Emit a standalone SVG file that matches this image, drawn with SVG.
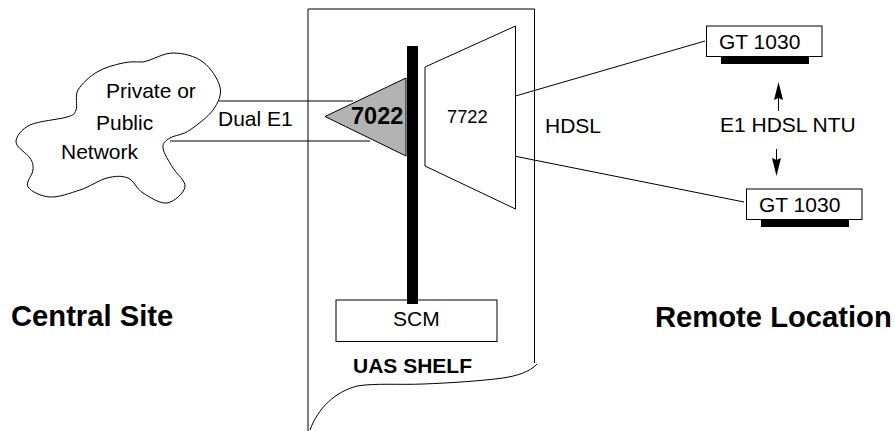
<svg xmlns="http://www.w3.org/2000/svg" width="895" height="431" viewBox="0 0 895 431">
<style>
.l{fill:none;stroke:#000;stroke-width:1}
.b{fill:#fff;stroke:#000;stroke-width:1}
.k{fill:#000}
text{font-family:"Liberation Sans",Arial,sans-serif;fill:#000}
.t{font-size:21px}
.h{font-size:29.200px;font-weight:bold}
</style>
<rect width="895" height="431" fill="#fff"/>
<g id="shelf"><path class="l" d="M308 431V9H534.500V363"/><path class="l" d="M537 364C530 372 516 376 503 378C480 381 450 383 423 384C400 385 375 383 357 386C335 392 318 408 310 430"/><text x="353" y="373" font-size="21" font-weight="bold">UAS SHELF</text></g>
<g id="cloud"><path class="l" d="M143 62C153 60 163 53 173 53S195 56 203 62S218 79 220 87S218 103 213 110S197 125 190 130S175 135 170 138S162.500 143 163 148S169 161.500 173 168S186 181 185 187S174 202 167 203S149.500 197 143 193S134 180.500 128 178S115 176 107 178S89.500 187 80 190S58.700 197.500 50 197S31 191.500 28 187S32.700 175 33 170S33 162.700 30 158S16 147.500 16 142S21.500 129 30 125S59 119.500 67 117S74 114.500 76 110S74.500 96 78 90S89.500 76.500 97 72S115 64.700 123 63S135 62 143 62"/><text class="t" x="106" y="98">Private or</text><text class="t" x="96" y="130">Public</text><text class="t" x="61" y="159">Network</text></g>
<g id="connectors"><path class="l" d="M219 101H353M170 141H370M512 97L705 41M514 156L744 202"/><path class="l" d="M778.500 111V95M776.500 149V165"/><path class="k" d="M778.500 82L783 100L778.500 98L774 100ZM776.500 176L772 158L776.500 160L781 158Z"/></g>
<text class="t" x="218" y="126">Dual E1</text>
<g id="n7022"><path d="M325 116.500L406 78V156Z" fill="#b3b3b3" stroke="#000"/><text x="351" y="124" font-size="23.500" font-weight="bold">7022</text></g>
<g id="bar"><rect class="k" x="407" y="46" width="11" height="258"/></g>
<g id="n7722"><path class="b" d="M425 67L515.500 26V209L425 166Z"/><text x="447" y="123" font-size="18.300">7722</text></g>
<text class="t" x="545" y="133">HDSL</text>
<g id="scm"><rect class="l" x="336" y="300" width="161" height="41.500"/><text class="t" x="393" y="326">SCM</text></g>
<g id="gt1"><rect class="b" x="706.500" y="26" width="115.500" height="30.500"/><rect class="k" x="721" y="56" width="88" height="8"/><text class="t" x="719" y="49">GT 1030</text></g>
<g id="gt2"><rect class="b" x="746.500" y="189" width="115.500" height="30.500"/><rect class="k" x="761" y="219" width="88" height="8"/><text class="t" x="759" y="212">GT 1030</text></g>
<text class="t" x="720" y="132">E1 HDSL NTU</text>
<text class="h" x="11" y="326">Central Site</text>
<text class="h" x="655" y="327">Remote Location</text>
</svg>
